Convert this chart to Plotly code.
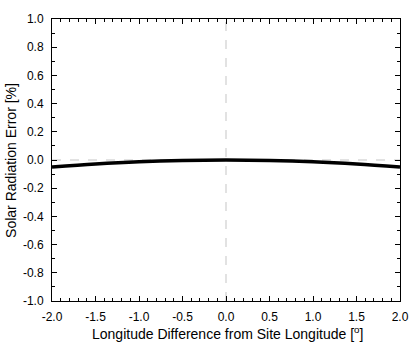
import plotly.graph_objects as go

lon_diff = [-2.0, -1.5, -1.0, -0.5, 0.0, 0.5, 1.0, 1.5, 2.0]
rad_error = [-0.05, -0.028, -0.012, -0.003, 0.0, -0.003, -0.012, -0.028, -0.05]

x_title = "Longitude Difference from Site Longitude [<sup>o</sup>]"
y_title = "Solar Radiation Error [%]"

fig = go.Figure()
fig.add_trace(go.Scatter(x=[-2, 2], y=[0, 0], mode="lines",
                         line=dict(color="#d9d9d9", width=1.5, dash="dash"),
                         showlegend=False, hoverinfo="skip"))
fig.add_trace(go.Scatter(x=[0, 0], y=[-1, 1], mode="lines",
                         line=dict(color="#d9d9d9", width=1.5, dash="dash"),
                         showlegend=False, hoverinfo="skip"))
fig.add_trace(go.Scatter(x=lon_diff, y=rad_error, mode="lines",
                         line=dict(color="black", width=3.5, shape="spline"),
                         showlegend=False))

axis_common = dict(showline=True, linecolor="black", linewidth=1, mirror="allticks",
                   ticks="inside", ticklen=5, tickcolor="black", tickwidth=1,
                   showgrid=False, zeroline=False, automargin=False,
                   tickfont=dict(family="Liberation Sans, Arial", size=12, color="black"))

fig.update_layout(
    width=420, height=342,
    margin=dict(l=52, r=20, t=19, b=41),
    plot_bgcolor="white", paper_bgcolor="white",
    xaxis=dict(range=[-2, 2], tickvals=[-2, -1.5, -1, -0.5, 0, 0.5, 1, 1.5, 2],
               ticktext=["-2.0", "-1.5", "-1.0", "-0.5", "0.0", "0.5", "1.0", "1.5", "2.0"],
               minor=dict(dtick=0.1, ticks="inside", ticklen=3, tickcolor="black"),
               ticklabelstandoff=5,
               **axis_common),
    yaxis=dict(range=[-1, 1], tickvals=[-1, -0.8, -0.6, -0.4, -0.2, 0, 0.2, 0.4, 0.6, 0.8, 1.0],
               ticktext=["-1.0", "-0.8", "-0.6", "-0.4", "-0.2", "0.0", "0.2", "0.4", "0.6", "0.8", "1.0"],
               minor=dict(dtick=0.1, ticks="inside", ticklen=3, tickcolor="black"),
               ticklabelstandoff=5,
               **axis_common),
    annotations=[
        dict(text=x_title, xref="paper", yref="paper", x=0.504, y=-0.115,
             xanchor="center", yanchor="middle", showarrow=False,
             font=dict(family="Liberation Sans, Arial", size=14, color="black")),
        dict(text=y_title, xref="paper", yref="paper", x=-0.118, y=0.5,
             xanchor="center", yanchor="middle", textangle=-90, showarrow=False,
             font=dict(family="Liberation Sans, Arial", size=14, color="black")),
    ],
)
fig.write_html("out.html")
